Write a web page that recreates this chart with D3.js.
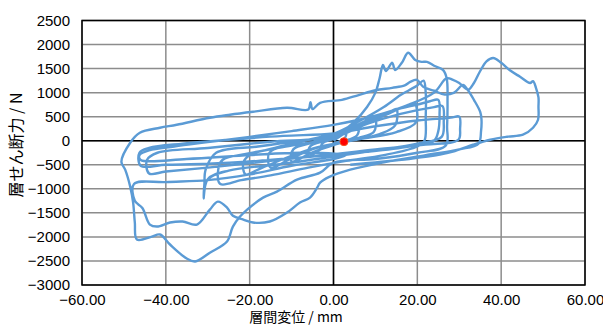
<!DOCTYPE html>
<html>
<head>
<meta charset="utf-8">
<script src="https://cdn.jsdelivr.net/npm/d3@7"></script>
<style>
  body { margin: 0; background: #fff; }
  svg { display: block; font-family: "Liberation Sans", Arial, sans-serif; }
</style>
</head>
<body>
<svg width="603" height="325"></svg>
<script>
// tick values
const xTicks = [-60, -40, -20, 0, 20, 40, 60];
const yTicks = [-3000, -2500, -2000, -1500, -1000, -500, 0, 500, 1000, 1500, 2000, 2500];

// hysteresis cycles [displacement mm, shear force N]
const cyc1 = [[0,0],[1.5,90],[3,160],[2.6,40],[0,-60],[-1.5,-120],[-3,-170],[-2.6,-50],[0,40],
  [3,170],[6,300],[5.6,110],[2,-20],[-2,-130],[-6,-320],[-5.6,-120],[-2,0],[0,60]];
const cyc2 = [[4,220],[8,380],[10,440],[9.6,180],[6,60],[0,-90],[-5,-240],[-10,-430],[-9.6,-180],[-5,-40],[0,80]];
const cyc3 = [[5,260],[10,460],[13.5,600],[15,660],[14.7,320],[11,140],[4,0],[-4,-150],[-10,-360],[-15,-560],
  [-15.3,-250],[-11,-90],[-4,60],[0,120]];
const cyc4 = [[6,330],[12,520],[16,680],[19.5,780],[19.8,700],[19.7,380],[15,180],[6,30],[-4,-140],[-12,-380],
  [-18,-600],[-21,-700],[-21.5,-450],[-20,-300],[-14,-150],[-6,20],[0,140]];
const cyc5 = [[6,400],[12,700],[16,950],[18,1050],[20,1150],[21.5,1250],[22,1000],[22,500],[21.7,0],[20,-120],
  [12,-300],[3,-420],[-6,-560],[-15,-720],[-22,-820],[-27,-900],[-27.5,-600],[-26.5,-400],[-20,-260],[-10,-100],[0,60]];
const cycA = [[8,350],[16,560],[24,700],[26,720],[26.3,400],[25.8,80],[20,-60],[10,-200],[0,-330],[-12,-480],
  [-25,-620],[-30,-800],[-31,-1200],[-30.8,-900],[-30.5,-600],[-28,-250],[-18,-120],[-8,0],[0,80]];
const cyc6 = [[5,300],[10,500],[15,650],[20,750],[23,820],[25,850],[25.3,550],[25,200],[24,0],[18,-120],[8,-230],
  [-5,-330],[-18,-420],[-30,-480],[-40,-500],[-46,-520],[-46.3,-250],[-44,-150],[-36,-60],[-25,20],[-12,100],[0,150]];
const cycB = [[10,300],[20,420],[28,480],[30,500],[30.2,250],[29.8,20],[22,-80],[10,-180],[-2,-300],[-15,-420],
  [-30,-560],[-40,-640],[-44,-680],[-44.5,-400],[-42,-250],[-30,-150],[-15,-20],[0,100]];
const cyc7 = [[5,400],[8,700],[10,1000],[11,1300],[11.8,1577],[12.5,1450],[14,1620],[14.7,1470],[16.3,1620],
  [17.8,1830],[19.5,1680],[21,1640],[22.3,1640],[24,1560],[26.1,1473],[27,1300],[27.2,800],[27.1,300],[26.8,-100],
  [20,-250],[10,-380],[0,-456],[-3.2,-664],[-8.7,-809],[-13.5,-1058],[-16.8,-1183],[-20.6,-1432],[-22.3,-1577],
  [-24,-1785],[-25.4,-2096],[-29.5,-2330],[-33,-2510],[-35,-2450],[-39,-2158],[-41.4,-1950],[-43.5,-2000],
  [-46.9,-2054],[-47.4,-1700],[-47.8,-1286],[-48.5,-954],[-49.7,-600],[-50.6,-440],[-48.5,-41],[-46.2,166],
  [-41.4,270],[-37.4,332],[-29.5,477],[-24.7,540],[-19.2,602],[-11.1,685],[-6,650],[-5.5,800],[-5,660],
  [-3.2,788],[2,850],[6,950],[10,1050],[14,1100],[17,1150]];
const cyc8 = [[18.3,1224],[19.9,1266],[21.4,1120],[24,1040],[26.5,960],[28.8,1000],[30.9,1162],[32,1060],
  [33.5,850],[35,600],[35.3,450],[35.2,200],[34.6,-60],[30,-180],[22,-300],[12,-450],[4,-600],[-1,-750],
  [-3.2,-870],[-3.9,-975],[-5.6,-1183],[-8,-1286],[-11.1,-1494],[-15.2,-1680],[-19.2,-1701],[-21.5,-1639],
  [-24,-1560],[-25.4,-1390],[-27.6,-1266],[-29.5,-1432],[-32.6,-1743],[-36,-1680],[-39,-1701],[-42.1,-1784],
  [-43.8,-1743],[-45.6,-1400],[-47.4,-1250],[-47.6,-900],[-40,-860],[-30,-820],[-20,-700],[-10,-520],[0,-380],
  [3,-300]];
const cyc9 = [[-8,-250],[-20,-300],[-35,-380],[-46,-400],[-46.3,-300],[-44,-200],[-38,-120],[-30,-30],[-20,80],
  [-10,200],[0,330],[10,520],[18,750],[24,1000],[27,1300],[28.5,1266],[30,1200],[32.1,1060],[33.5,1200],
  [35,1450],[36.5,1650],[38.1,1720],[40,1620],[42,1470],[44.5,1330],[46.9,1200],[47.6,1240],[48.3,1100],
  [48.9,900],[48.9,712],[48.8,436],[47.6,270],[45.2,125],[41.4,83],[37.4,21],[33.3,-83],[28.5,-228],
  [25.4,-290],[18,-380],[10,-450],[4,-500]];
const marker = [[2.5, -20]];

const series = [].concat(cyc1, cyc2, cyc3, cyc4, cyc5, cycA, cyc6, cycB, cyc7, cyc8, cyc9);

const margin = { top: 20.5, right: 18, bottom: 40, left: 82 };
const width = 603 - margin.left - margin.right;
const height = 325 - margin.top - margin.bottom;

const svg = d3.select("svg");
const g = svg.append("g").attr("transform", `translate(${margin.left}, ${margin.top})`);

const x = d3.scaleLinear().domain([-60, 60]).range([0, width]);
const y = d3.scaleLinear().domain([-3000, 2500]).range([height, 0]);

// grid
g.append("g").selectAll("line").data(yTicks).enter().append("line")
  .attr("x1", 0).attr("x2", width)
  .attr("y1", d => y(d)).attr("y2", d => y(d))
  .attr("stroke", "#8c8c8c").attr("stroke-width", 1.5);
g.append("g").selectAll("line").data(xTicks).enter().append("line")
  .attr("y1", 0).attr("y2", height)
  .attr("x1", d => x(d)).attr("x2", d => x(d))
  .attr("stroke", "#8c8c8c").attr("stroke-width", 1.5);

// zero axes
g.append("line").attr("x1", 0).attr("x2", width).attr("y1", y(0)).attr("y2", y(0))
  .attr("stroke", "#000").attr("stroke-width", 1.5);
g.append("line").attr("y1", 0).attr("y2", height).attr("x1", x(0)).attr("x2", x(0))
  .attr("stroke", "#000").attr("stroke-width", 1.5);

// frame
g.append("rect").attr("width", width).attr("height", height)
  .attr("fill", "none").attr("stroke", "#000").attr("stroke-width", 1.5);

// tick labels via d3 axes
const xAxis = g.append("g").attr("transform", `translate(0, ${height})`)
  .call(d3.axisBottom(x).tickValues(xTicks).tickFormat(d3.format(".2f")).tickSize(0).tickPadding(9));
const yAxis = g.append("g")
  .call(d3.axisLeft(y).tickValues(yTicks).tickFormat(d3.format("d")).tickSize(0).tickPadding(12));
[xAxis, yAxis].forEach(a => {
  a.select(".domain").remove();
  a.selectAll("text").attr("font-size", 15).attr("fill", "#000")
    .attr("font-family", "'Liberation Sans', Arial, sans-serif");
});

// curve
const line = d3.line().x(d => x(d[0])).y(d => y(d[1])).curve(d3.curveCatmullRom.alpha(0.5));
g.append("path").datum(series)
  .attr("d", line)
  .attr("fill", "none")
  .attr("stroke", "#5b9bd5")
  .attr("stroke-width", 2.4)
  .attr("stroke-linejoin", "round");

g.selectAll(".dot").data(marker).enter().append("circle")
  .attr("cx", d => x(d[0])).attr("cy", d => y(d[1])).attr("r", 4)
  .attr("fill", "#ff0000").attr("stroke", "#f4511e").attr("stroke-width", 1);

// titles
svg.append("text")
  .attr("transform", "translate(22, 145) rotate(-90)")
  .attr("text-anchor", "middle")
  .attr("font-family", "'Noto Sans CJK JP', sans-serif")
  .attr("font-size", 16)
  .text("層せん断力 / N");
svg.append("text")
  .attr("x", 296).attr("y", 322)
  .attr("text-anchor", "middle")
  .attr("font-family", "'Noto Sans CJK JP', sans-serif")
  .attr("font-size", 14)
  .text("層間変位 / mm");
</script>
</body>
</html>
